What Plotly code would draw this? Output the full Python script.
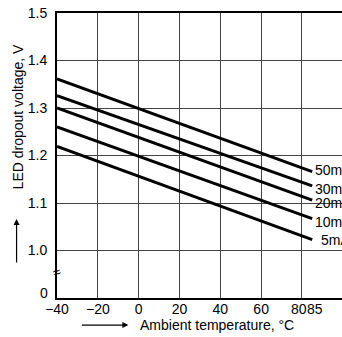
import plotly.graph_objects as go

temps = [-40, 85]
currents = ["50mA", "30mA", "20mA", "10mA", "5mA"]
v_start = [1.361, 1.326, 1.300, 1.260, 1.219]
v_end = [1.166, 1.136, 1.106, 1.067, 1.023]
x_ticks = [-40, -20, 0, 20, 40, 60, 80]
x_labels = ["−40", "−20", "0", "20", "40", "60", ""]
extra_x_labels = [80, 85]
y_ticks = [1.0, 1.1, 1.2, 1.3, 1.4, 1.5]
y_labels = ["1.0", "1.1", "1.2", "1.3", "1.4", "1.5"]

FONT = "Liberation Sans, Arial, sans-serif"
FS = 14

W, H = 342, 337
L, R, T, B = 56.5, 0, 13.3, 39
pw, ph = W - L - R, H - T - B


def px(sx, sy):
    """screen pixel -> paper coords"""
    return (sx - L) / pw, (H - B - sy) / ph


fig = go.Figure()
for name, a, b in zip(currents, v_start, v_end):
    fig.add_trace(go.Scatter(x=temps, y=[a, b], mode="lines",
                             line=dict(color="black", width=3),
                             showlegend=False, cliponaxis=False))

lab_dy = [2, -3, -3, -3, 0]
lab_dx = [0, 0, 0, 0, 6]
ann = []
for name, b, dy, dx in zip(currents, v_end, lab_dy, lab_dx):
    ann.append(dict(x=85, y=b, xref="x", yref="y", text=name,
                    showarrow=False, xanchor="left", yanchor="middle",
                    xshift=1 + dx, yshift=dy,
                    font=dict(size=FS, color="black", family=FONT)))
for v, sh in zip(extra_x_labels, [-2.5, 3]):
    ann.append(dict(x=v, y=0.9, xref="x", yref="y", text=str(v), showarrow=False,
                    xanchor="center", yanchor="top", yshift=-1, xshift=sh,
                    font=dict(size=FS, color="black", family=FONT)))
ax0, _ = px(49, 0)
ann.append(dict(x=ax0, y=0.9, xref="paper", yref="y", text="0", showarrow=False,
                xanchor="right", yanchor="middle", yshift=5,
                font=dict(size=FS, color="black", family=FONT)))
ann.append(dict(x=-40, y=0.954, xref="x", yref="y", text="≈", showarrow=False,
                xanchor="center", yanchor="middle", textangle=-20,
                font=dict(size=14, color="black", family=FONT)))
tx, ty = px(17, 117)
ann.append(dict(x=tx, y=ty, xref="paper", yref="paper", text="LED dropout voltage, V",
                showarrow=False, textangle=-90, xanchor="center", yanchor="middle",
                font=dict(size=FS, color="black", family=FONT)))
tx, ty = px(138, 325)
ann.append(dict(x=tx, y=ty, xref="paper", yref="paper", text="Ambient temperature, °C",
                showarrow=False, xanchor="left", yanchor="middle",
                font=dict(size=FS, color="black", family=FONT)))
tx, ty = px(16, 219)
ann.append(dict(x=tx, y=ty, xref="paper", yref="paper", text="", showarrow=True,
                ax=0, ay=45, arrowhead=2, arrowsize=1, arrowwidth=1.2, arrowcolor="black"))
tx, ty = px(128, 325)
ann.append(dict(x=tx, y=ty, xref="paper", yref="paper", text="", showarrow=True,
                ax=-48, ay=0, arrowhead=2, arrowsize=1, arrowwidth=1.2, arrowcolor="black"))

fig.update_layout(
    width=W, height=H,
    margin=dict(l=L, r=R, t=T, b=B, pad=0),
    paper_bgcolor="white", plot_bgcolor="white",
    font=dict(family=FONT, size=FS, color="black"),
    annotations=ann,
    xaxis=dict(range=[-40, 99.6], tickvals=x_ticks, ticktext=x_labels, showgrid=True,
               gridcolor="#444", gridwidth=1, zeroline=False,
               showline=True, linecolor="black", linewidth=2, mirror=True,
               ticks="", ticklabelstandoff=-3, tickfont=dict(size=FS, family=FONT)),
    yaxis=dict(range=[0.9, 1.5], tickvals=y_ticks, ticktext=y_labels,
               showgrid=True, gridcolor="#444", gridwidth=1, zeroline=False,
               showline=True, linecolor="black", linewidth=2,
               ticks="", ticklabelstandoff=5, ticklabeloverflow="allow",
               tickfont=dict(size=FS, family=FONT)),
)
fig.write_html("out.html", config={"displayModeBar": False},
               post_script="document.body.style.margin='0px';")
